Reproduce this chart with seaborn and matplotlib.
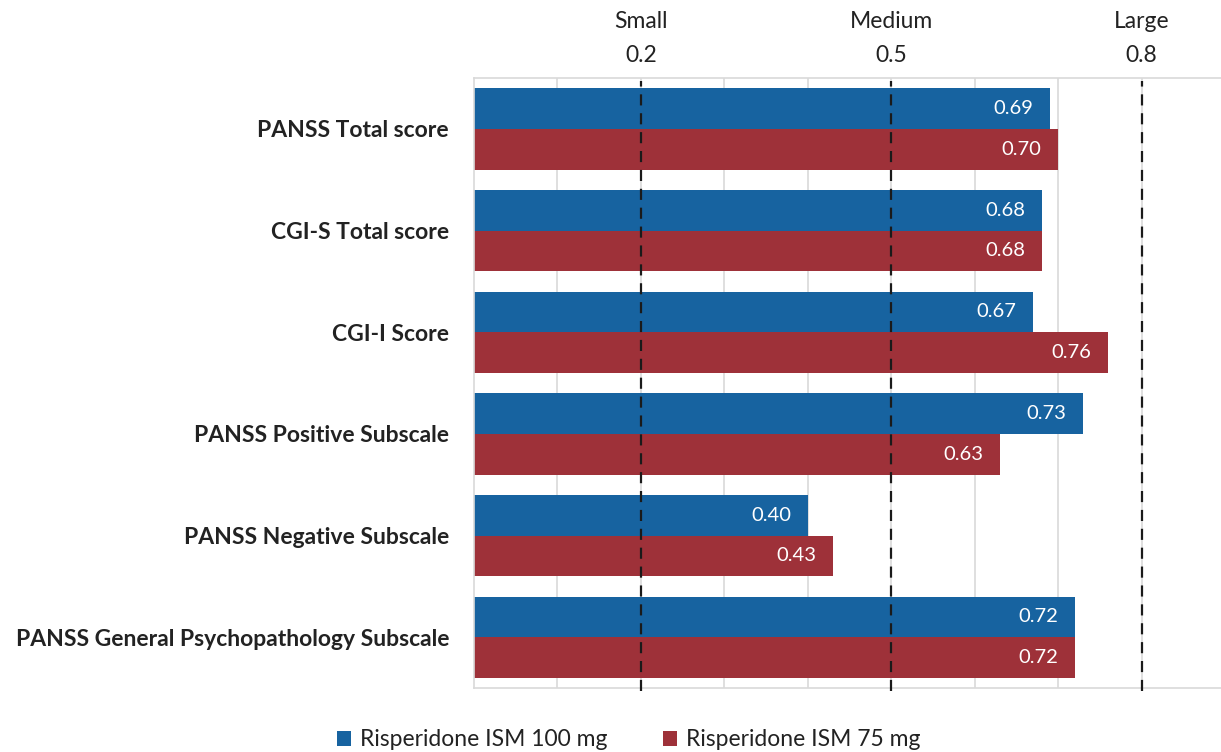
import matplotlib
matplotlib.use("Agg")
import matplotlib.pyplot as plt
import seaborn as sns
import pandas as pd
from matplotlib.transforms import blended_transform_factory
from matplotlib.patches import Patch

# Effect sizes per outcome measure
categories = [
    "PANSS Total score",
    "CGI-S Total score",
    "CGI-I Score",
    "PANSS Positive Subscale",
    "PANSS Negative Subscale",
    "PANSS General Psychopathology Subscale",
]
series_names = ["Risperidone ISM 100 mg", "Risperidone ISM 75 mg"]
dose_100 = [0.69, 0.68, 0.67, 0.73, 0.40, 0.72]
dose_75 = [0.70, 0.68, 0.76, 0.63, 0.43, 0.72]

# Reference thresholds for effect size
threshold_names = ["Small", "Medium", "Large"]
threshold_values = [0.2, 0.5, 0.8]

colors = ["#1763A0", "#9E3139"]

df = pd.DataFrame({
    "measure": categories * 2,
    "effect": dose_100 + dose_75,
    "group": [series_names[0]] * len(categories) + [series_names[1]] * len(categories),
})

sns.set_theme(style="white")
plt.rcParams["font.family"] = ["Lato", "DejaVu Sans"]

fig = plt.figure(figsize=(12.21, 7.52), dpi=100)
ax = fig.add_axes([474 / 1221, 1 - 688 / 752, 1 - 474 / 1221, (688 - 78) / 752])

sns.barplot(data=df, y="measure", x="effect", hue="group", order=categories,
            hue_order=series_names, palette=colors, orient="h", width=0.8,
            saturation=1, dodge=True, gap=0, ax=ax, legend=False, zorder=2,
            linewidth=0)

ax.set_xlim(0, 0.895)
ax.set_xticks([0.1 * i for i in range(1, 9)])
ax.set_xticklabels([])
ax.tick_params(axis="x", length=0)
ax.grid(axis="x", color="#D9D9D9", linewidth=1.2, zorder=0)
ax.set_axisbelow(True)
ax.set_xlabel("")
ax.set_ylabel("")

for side in ["top", "bottom", "left"]:
    ax.spines[side].set_color("#D9D9D9")
    ax.spines[side].set_linewidth(1.2)
ax.spines["right"].set_visible(False)

ax.tick_params(axis="y", length=0, pad=18)
for lbl in ax.get_yticklabels():
    lbl.set_fontweight("bold")
    lbl.set_fontsize(16.5)
    lbl.set_color("#222222")

# Value labels inside bar ends
for cont in ax.containers:
    texts = ax.bar_label(cont, fmt="%.2f", label_type="edge", padding=-12,
                         color="white", fontsize=14.5)
    for t in texts:
        t.set_ha("right")

# Threshold lines and their headings
trans = blended_transform_factory(ax.transData, ax.transAxes)
for name, val in zip(threshold_names, threshold_values):
    ax.axvline(val, color="#1a1a1a", linewidth=1.6, linestyle=(0, (5, 3.5)),
               zorder=3, clip_on=False, ymin=-0.005, ymax=0.995)
    ax.text(val, 1.026, f"{val:.1f}", transform=trans, ha="center", va="baseline",
            fontsize=16.5, color="#222222")
    ax.text(val, 1.082, name, transform=trans, ha="center", va="baseline",
            fontsize=16.5, color="#222222")

handles = [Patch(facecolor=c, edgecolor="none") for c in colors]
fig.legend(handles, series_names, loc="center", bbox_to_anchor=(0.515, 0.016),
           ncol=2, frameon=False, fontsize=16.5, handlelength=0.6,
           handleheight=0.6, handletextpad=0.4, columnspacing=2.4,
           labelcolor="#222222")

fig.savefig("out.png", dpi=100)
